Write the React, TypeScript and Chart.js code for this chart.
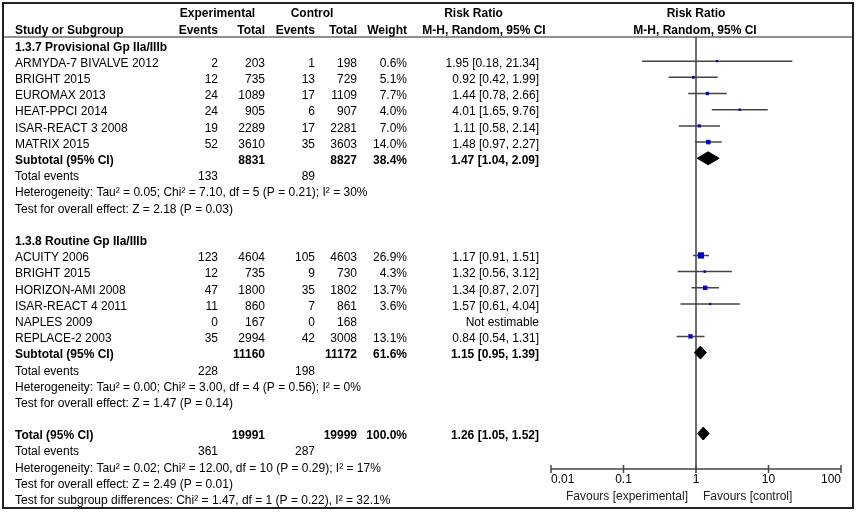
import { useEffect, useRef } from "react";
import { Chart, registerables } from "chart.js";

Chart.register(...registerables);

// ---------------- data ----------------
const group1Title = "1.3.7 Provisional Gp IIa/IIIb";
const studies1 = ["ARMYDA-7 BIVALVE 2012", "BRIGHT 2015", "EUROMAX 2013", "HEAT-PPCI 2014", "ISAR-REACT 3 2008", "MATRIX 2015"];
const expEvents1 = [2, 12, 24, 24, 19, 52];
const expTotal1 = [203, 735, 1089, 905, 2289, 3610];
const ctlEvents1 = [1, 13, 17, 6, 17, 35];
const ctlTotal1 = [198, 729, 1109, 907, 2281, 3603];
const weight1 = [0.6, 5.1, 7.7, 4.0, 7.0, 14.0];
const rr1 = [1.95, 0.92, 1.44, 4.01, 1.11, 1.48];
const lo1 = [0.18, 0.42, 0.78, 1.65, 0.58, 0.97];
const hi1 = [21.34, 1.99, 2.66, 9.76, 2.14, 2.27];
const sub1 = { expTotal: 8831, ctlTotal: 8827, weight: 38.4, rr: 1.47, lo: 1.04, hi: 2.09, expEv: 133, ctlEv: 89 };
const het1 = "Heterogeneity: Tau² = 0.05; Chi² = 7.10, df = 5 (P = 0.21); I² = 30%";
const eff1 = "Test for overall effect: Z = 2.18 (P = 0.03)";

const group2Title = "1.3.8 Routine Gp IIa/IIIb";
const studies2 = ["ACUITY 2006", "BRIGHT 2015", "HORIZON-AMI 2008", "ISAR-REACT 4 2011", "NAPLES 2009", "REPLACE-2 2003"];
const expEvents2 = [123, 12, 47, 11, 0, 35];
const expTotal2 = [4604, 735, 1800, 860, 167, 2994];
const ctlEvents2 = [105, 9, 35, 7, 0, 42];
const ctlTotal2 = [4603, 730, 1802, 861, 168, 3008];
const weight2 = [26.9, 4.3, 13.7, 3.6, null, 13.1];
const rr2 = [1.17, 1.32, 1.34, 1.57, null, 0.84];
const lo2 = [0.91, 0.56, 0.87, 0.61, null, 0.54];
const hi2 = [1.51, 3.12, 2.07, 4.04, null, 1.31];
const sub2 = { expTotal: 11160, ctlTotal: 11172, weight: 61.6, rr: 1.15, lo: 0.95, hi: 1.39, expEv: 228, ctlEv: 198 };
const het2 = "Heterogeneity: Tau² = 0.00; Chi² = 3.00, df = 4 (P = 0.56); I² = 0%";
const eff2 = "Test for overall effect: Z = 1.47 (P = 0.14)";

const overall = { expTotal: 19991, ctlTotal: 19999, weight: 100.0, rr: 1.26, lo: 1.05, hi: 1.52, expEv: 361, ctlEv: 287 };
const hetAll = "Heterogeneity: Tau² = 0.02; Chi² = 12.00, df = 10 (P = 0.29); I² = 17%";
const effAll = "Test for overall effect: Z = 2.49 (P = 0.01)";
const subgroupTest = "Test for subgroup differences: Chi² = 1.47, df = 1 (P = 0.22), I² = 32.1%";

const axisTicks = [0.01, 0.1, 1, 10, 100];
const axisTickLabels = ["0.01", "0.1", "1", "10", "100"];
const favoursLeft = "Favours [experimental]";
const favoursRight = "Favours [control]";

// ---------------- layout ----------------
const W = 856;
const H = 514;
const FONT = '"Liberation Sans", Arial, sans-serif';
const FS = 12;
const MARK_DY = -0.15;
const DIA_H = 0.4;

type Group = {
  title: string; names: string[]; ee: number[]; et: number[]; ce: number[]; ct: number[];
  w: (number | null)[]; rr: (number | null)[]; lo: (number | null)[]; hi: (number | null)[];
  sub: typeof sub1; het: string; eff: string;
};
const groups: Group[] = [
  { title: group1Title, names: studies1, ee: expEvents1, et: expTotal1, ce: ctlEvents1, ct: ctlTotal1, w: weight1, rr: rr1, lo: lo1, hi: hi1, sub: sub1, het: het1, eff: eff1 },
  { title: group2Title, names: studies2, ee: expEvents2, et: expTotal2, ce: ctlEvents2, ct: ctlTotal2, w: weight2, rr: rr2, lo: lo2, hi: hi2, sub: sub2, het: het2, eff: eff2 },
];

const fmtCI = (r: number, l: number, h: number) => `${r.toFixed(2)} [${l.toFixed(2)}, ${h.toFixed(2)}]`;

type TextItem = { row: number; x: number; text: string; align: CanvasTextAlign; bold?: boolean };

function buildLayout() {
  const texts: TextItem[] = [];
  const studyPts: { x: number; y: number; w: number }[] = [];
  const ciLines: { x: number; y: number | null }[] = [];
  const diamonds: { rr: number; lo: number; hi: number; row: number }[] = [];
  let row = 0;
  const C = { name: 15, ee: 218, et: 265, ce: 315, ct: 357, w: 407, rr: 539 };
  groups.forEach((g) => {
    texts.push({ row, x: C.name, text: g.title, align: "left", bold: true });
    row++;
    g.names.forEach((n, i) => {
      texts.push({ row, x: C.name, text: n, align: "left" });
      texts.push({ row, x: C.ee, text: String(g.ee[i]), align: "right" });
      texts.push({ row, x: C.et, text: String(g.et[i]), align: "right" });
      texts.push({ row, x: C.ce, text: String(g.ce[i]), align: "right" });
      texts.push({ row, x: C.ct, text: String(g.ct[i]), align: "right" });
      const w = g.w[i], r = g.rr[i], l = g.lo[i], h = g.hi[i];
      if (w != null && r != null && l != null && h != null) {
        texts.push({ row, x: C.w, text: `${w.toFixed(1)}%`, align: "right" });
        texts.push({ row, x: C.rr, text: fmtCI(r, l, h), align: "right" });
        studyPts.push({ x: r, y: row + MARK_DY, w });
        ciLines.push({ x: l, y: row + MARK_DY }, { x: h, y: row + MARK_DY }, { x: h, y: null });
      } else {
        texts.push({ row, x: C.rr, text: "Not estimable", align: "right" });
      }
      row++;
    });
    const s = g.sub;
    texts.push({ row, x: C.name, text: "Subtotal (95% CI)", align: "left", bold: true });
    texts.push({ row, x: C.et, text: String(s.expTotal), align: "right", bold: true });
    texts.push({ row, x: C.ct, text: String(s.ctlTotal), align: "right", bold: true });
    texts.push({ row, x: C.w, text: `${s.weight.toFixed(1)}%`, align: "right", bold: true });
    texts.push({ row, x: C.rr, text: fmtCI(s.rr, s.lo, s.hi), align: "right", bold: true });
    diamonds.push({ rr: s.rr, lo: s.lo, hi: s.hi, row });
    row++;
    texts.push({ row, x: C.name, text: "Total events", align: "left" });
    texts.push({ row, x: C.ee, text: String(s.expEv), align: "right" });
    texts.push({ row, x: C.ce, text: String(s.ctlEv), align: "right" });
    row++;
    texts.push({ row, x: C.name, text: g.het, align: "left" });
    row++;
    texts.push({ row, x: C.name, text: g.eff, align: "left" });
    row += 2;
  });
  const o = overall;
  texts.push({ row, x: C.name, text: "Total (95% CI)", align: "left", bold: true });
  texts.push({ row, x: C.et, text: String(o.expTotal), align: "right", bold: true });
  texts.push({ row, x: C.ct, text: String(o.ctlTotal), align: "right", bold: true });
  texts.push({ row, x: C.w, text: `${o.weight.toFixed(1)}%`, align: "right", bold: true });
  texts.push({ row, x: C.rr, text: fmtCI(o.rr, o.lo, o.hi), align: "right", bold: true });
  diamonds.push({ rr: o.rr, lo: o.lo, hi: o.hi, row });
  row++;
  texts.push({ row, x: C.name, text: "Total events", align: "left" });
  texts.push({ row, x: C.ee, text: String(o.expEv), align: "right" });
  texts.push({ row, x: C.ce, text: String(o.ctlEv), align: "right" });
  row++;
  texts.push({ row, x: C.name, text: hetAll, align: "left" });
  row++;
  texts.push({ row, x: C.name, text: effAll, align: "left" });
  row++;
  texts.push({ row, x: C.name, text: subgroupTest, align: "left" });

  // headers
  const h1 = -2.05, h2 = -1;
  texts.push({ row: h1, x: 217.5, text: "Experimental", align: "center", bold: true });
  texts.push({ row: h1, x: 312, text: "Control", align: "center", bold: true });
  texts.push({ row: h2, x: C.name, text: "Study or Subgroup", align: "left", bold: true });
  texts.push({ row: h2, x: C.ee, text: "Events", align: "right", bold: true });
  texts.push({ row: h2, x: C.et, text: "Total", align: "right", bold: true });
  texts.push({ row: h2, x: C.ce, text: "Events", align: "right", bold: true });
  texts.push({ row: h2, x: C.ct, text: "Total", align: "right", bold: true });
  texts.push({ row: h2, x: C.w, text: "Weight", align: "right", bold: true });
  texts.push({ row: h1, x: 473.5, text: "Risk Ratio", align: "center", bold: true });
  texts.push({ row: h2, x: 484, text: "M-H, Random, 95% CI", align: "center", bold: true });
  texts.push({ row: h1, x: 696, text: "Risk Ratio", align: "center", bold: true });
  texts.push({ row: h2, x: 695, text: "M-H, Random, 95% CI", align: "center", bold: true });
  return { texts, studyPts, ciLines, diamonds };
}

const Y_MIN = -0.64;
const Y_MAX = 26.04;

export default function App() {
  const ref = useRef<HTMLCanvasElement>(null);
  useEffect(() => {
    const { texts, studyPts, ciLines, diamonds } = buildLayout();

    const tablePlugin = {
      id: "forestTable",
      afterDraw(chart: any) {
        const { ctx, scales, chartArea } = chart;
        const x = scales.x, y = scales.y;
        ctx.save();
        // outer border + header line
        ctx.strokeStyle = "#222";
        ctx.lineWidth = 2;
        ctx.strokeRect(3, 3, W - 6, 505);
        ctx.lineWidth = 1.2;
        ctx.beginPath();
        const hy = y.getPixelForValue(Y_MIN);
        ctx.moveTo(3, hy);
        ctx.lineTo(W - 3, hy);
        ctx.stroke();
        // text
        ctx.fillStyle = "#000";
        ctx.textBaseline = "middle";
        texts.forEach((t) => {
          ctx.font = `${t.bold ? "bold " : ""}${FS}px ${FONT}`;
          ctx.textAlign = t.align;
          ctx.fillText(t.text, t.x, y.getPixelForValue(t.row));
        });
        // x axis
        const ay = chartArea.bottom;
        ctx.strokeStyle = "#444";
        ctx.lineWidth = 1.5;
        ctx.beginPath();
        ctx.moveTo(x.getPixelForValue(axisTicks[0]), ay);
        ctx.lineTo(x.getPixelForValue(axisTicks[axisTicks.length - 1]), ay);
        axisTicks.forEach((v) => {
          const px = x.getPixelForValue(v);
          ctx.moveTo(px, ay - 4);
          ctx.lineTo(px, ay + 4);
        });
        ctx.stroke();
        ctx.font = `${FS}px ${FONT}`;
        axisTicks.forEach((v, i) => {
          const px = x.getPixelForValue(v);
          ctx.textAlign = i === 0 ? "left" : i === axisTicks.length - 1 ? "right" : "center";
          ctx.fillText(axisTickLabels[i], px, ay + 11);
        });
        const one = x.getPixelForValue(1);
        ctx.fillStyle = "#222";
        ctx.textAlign = "right";
        ctx.fillText(favoursLeft, one - 8, ay + 28);
        ctx.textAlign = "left";
        ctx.fillText(favoursRight, one + 7, ay + 28);
        ctx.restore();
      },
    };

    const diamondSets = diamonds.map((d) => ({
      type: "line" as const,
      data: [
        { x: d.lo, y: d.row + MARK_DY },
        { x: d.rr, y: d.row + MARK_DY - DIA_H },
        { x: d.hi, y: d.row + MARK_DY },
        { x: d.rr, y: d.row + MARK_DY + DIA_H },
        { x: d.lo, y: d.row + MARK_DY },
      ],
      borderColor: "#000",
      backgroundColor: "#000",
      borderWidth: 1,
      fill: "shape" as any,
      pointRadius: 0,
      tension: 0,
      order: 1,
      clip: false as any,
    }));

    const chart = new Chart(ref.current!, {
      type: "scatter",
      data: {
        datasets: [
          {
            type: "scatter",
            data: studyPts.map((p) => ({ x: p.x, y: p.y })),
            pointStyle: "rect",
            pointRadius: studyPts.map((p) => Math.max(2.2, 1.2 * Math.sqrt(p.w)) / Math.SQRT2),
            backgroundColor: "#0000cc",
            borderWidth: 0,
            order: 0,
          } as any,
          ...diamondSets,
          {
            type: "line",
            data: ciLines,
            borderColor: "#444",
            borderWidth: 1.5,
            pointRadius: 0,
            spanGaps: false,
            tension: 0,
            order: 2,
          } as any,
          {
            type: "line",
            data: [{ x: 1, y: Y_MIN }, { x: 1, y: Y_MAX }],
            borderColor: "#222",
            borderWidth: 1.3,
            pointRadius: 0,
            order: 3,
          } as any,
        ],
      },
      options: {
        responsive: false,
        animation: false,
        events: [],
        layout: { padding: { left: 551, right: W - 841, top: 37, bottom: H - 469 } },
        plugins: { legend: { display: false }, tooltip: { enabled: false } },
        scales: {
          x: { type: "logarithmic", min: 0.01, max: 100, display: false },
          y: { type: "linear", min: Y_MIN, max: Y_MAX, reverse: true, display: false },
        },
      },
      plugins: [tablePlugin],
    });
    return () => chart.destroy();
  }, []);
  return (
    <div style={{ position: "fixed", left: 0, top: 0, width: W, height: H, background: "#fff" }}>
      <canvas ref={ref} width={W} height={H} style={{ width: W, height: H, display: "block" }} />
    </div>
  );
}
